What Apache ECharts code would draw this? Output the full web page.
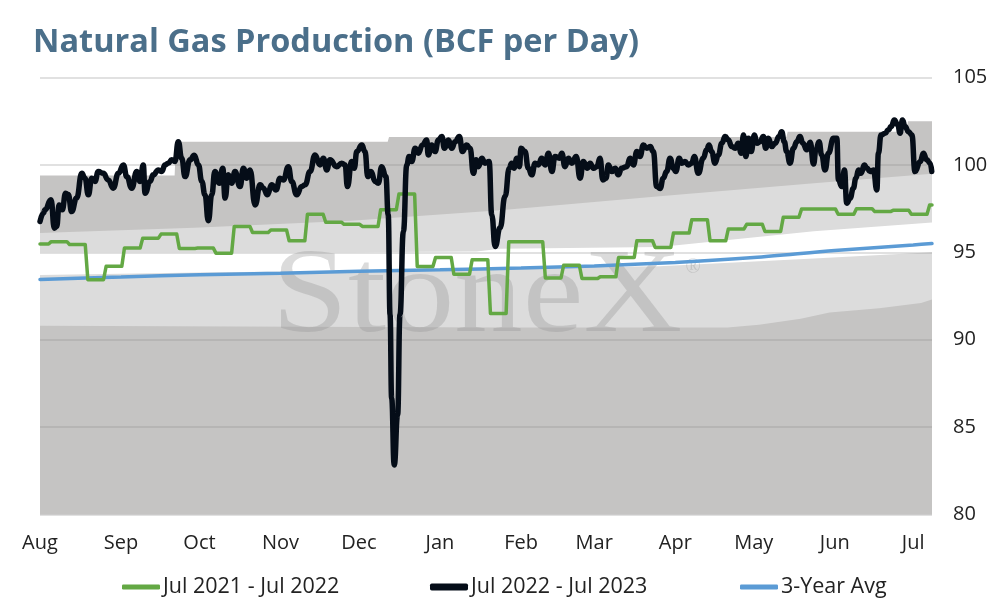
<!DOCTYPE html>
<html>
<head>
<meta charset="utf-8">
<script src="https://cdn.jsdelivr.net/npm/echarts@6/dist/echarts.min.js"></script>
<style>html,body{margin:0;padding:0;background:#fff}#c{width:994px;height:606px}</style>
</head>
<body>
<div id="c"></div>
<script>
// ---------- axis / tick data ----------
const monthNames = ['Aug','Sep','Oct','Nov','Dec','Jan','Feb','Mar','Apr','May','Jun','Jul'];
const monthStartDays = [0,31,61,92,122,153,184,212,243,273,304,334];
const lastDay = 341.2;

// ---------- 5-year range bands (day index from Aug 1) ----------
const bandMaxDays = [0,51.5,52,133,133.5,285.5,286,331.5,332,341.2];
const bandMaxVals = [99.4,99.4,101.33,101.33,101.6,101.6,101.9,101.9,102.5,102.5];
const bandUpperDays = [0,59,119,176,237,296,341.2];
const bandUpperVals = [96.1,96.4,96.8,97.4,98.2,98.95,99.5];
const bandWhiteTopDays = [0,119,167,176,237,296,341.2];
const bandWhiteTopVals = [95.0,95.0,95.05,95.2,95.3,96.2,96.7];
const bandWhiteBottomDays = [0,61,119,176,237,296,341.2];
const bandWhiteBottomVals = [93.7,93.85,93.95,94.1,94.2,94.65,95.0];
const bandMinDays = [0,176,263,275,291,302,321,337,341.2];
const bandMinVals = [90.8,90.7,90.7,90.85,91.2,91.55,91.8,92.1,92.3];

// ---------- 3-Year Avg ----------
const avgDays = [0,31,61,92,122,153,184,212,243,273,304,334,341.2];
const avgVals = [93.45,93.58,93.72,93.8,93.92,94.0,94.1,94.22,94.42,94.7,95.1,95.42,95.5];

// ---------- Jul 2021 - Jul 2022 (weekly) ----------
const greenPreVal = 95.47;
const greenFirstWeekDay = 3.8;
const greenWeekly = [
  95.61,95.45,93.43,94.2,95.24,95.81,96.04,95.22,95.24,94.95,
  96.48,96.13,96.28,95.66,97.18,96.72,96.6,96.48,97.43,98.33,
  94.19,94.7,93.75,94.57,91.5,95.6,95.6,93.53,94.26,93.5,
  93.6,94.7,95.66,95.28,96.1,96.86,95.66,96.34,96.6,96.19,
  97.0,97.47,97.47,97.18,97.49,97.33,97.4,97.18,97.71
];

// ---------- Jul 2022 - Jul 2023 (daily) ----------
const blackDays = [
  0,1.3,1.9,4.2,5.5,6.4,7.3,8.5,9.8,10.8,12.1,14.0,16.0,17.2,18.5,19.8,21.0,22.3,24.2,26.1,
  28.0,30.0,31.9,33.2,35.1,37.0,38.3,39.5,40.2,42.1,43.3,45.3,46.6,47.8,49.1,50.4,51.6,52.9,54.2,55.5,
  57.4,59.0,60.6,61.9,63.1,64.4,65.7,66.9,68.6,69.9,70.8,72.0,73.3,74.6,76.5,77.8,79.1,80.3,82.3,84.2,
  85.4,87.0,88.6,90.3,91.8,93.1,95.0,96.3,98.2,100.1,101.4,103.3,105.2,107.1,108.4,109.7,110.9,113.5,115.4,116.7,
  117.6,119.2,120.2,121.2,123.1,124.3,125.4,126.6,128.2,129.4,130.7,132.3,133.2,133.9,134.5,135.5,136.8,137.7,139.0,140.3,
  141.2,142.2,143.5,144.7,146.3,147.9,148.5,149.8,151.1,152.4,153.7,154.7,156.2,157.5,158.8,160.4,161.6,163.2,164.5,165.8,
  166.8,167.7,169.0,170.2,171.8,172.8,174.1,176.0,177.9,179.5,180.4,181.3,182.4,183.4,184.0,185.5,186.8,188.1,189.4,190.6,
  191.9,193.2,194.5,195.8,197.0,198.7,199.6,200.8,202.1,203.4,205.1,206.6,207.8,209.4,210.4,211.7,213.0,214.2,215.3,216.5,
  217.4,218.7,220.0,221.2,222.5,224.4,225.7,227.0,228.3,229.5,230.8,232.1,233.4,234.6,235.9,237.2,238.4,239.7,241.0,242.3,
  243.2,244.5,245.5,246.7,248.0,249.3,250.3,251.8,253.7,255.0,255.9,256.9,258.2,259.5,260.8,262.1,263.3,264.6,265.9,267.1,
  268.2,269.1,270.0,271.0,272.0,273.3,274.2,275.4,276.7,277.6,278.6,279.9,281.2,282.7,283.7,284.7,285.6,286.9,288.2,289.5,
  290.7,291.8,293.3,294.6,295.9,296.8,298.0,299.0,300.3,301.6,303.5,304.8,305.4,306.7,307.7,308.6,309.9,311.1,312.1,313.1,
  314.1,315.3,316.3,317.5,318.8,320.1,320.7,321.7,323.3,324.5,325.6,326.8,328.1,329.0,329.9,330.9,332.2,333.5,334.7,336.7,
  337.9,339.2,340.5,341.1
];
const blackVals = [
  96.76,97.24,97.43,98.0,96.38,96.48,97.71,97.43,98.38,98.3,97.33,98.1,99.52,99.24,98.29,99.24,99.05,99.62,99.52,99.14,
  98.67,99.52,100.0,99.33,98.67,99.62,99.05,100.0,98.38,99.05,99.43,99.71,99.62,100.0,100.1,100.29,100.19,101.33,100.38,99.33,
  100.29,100.55,100.0,99.05,98.29,96.8,98.29,99.62,98.95,99.81,98.1,99.43,98.95,99.62,98.76,99.81,99.24,99.71,97.71,98.86,
  98.67,98.29,98.86,98.57,99.24,99.14,99.9,99.05,98.29,98.76,98.86,99.62,100.57,100.0,100.38,99.71,100.29,99.9,100.1,100.0,
  98.76,100.19,99.81,100.76,101.14,100.76,99.33,99.62,99.05,98.95,99.9,99.33,97.14,91.43,86.67,82.83,85.71,91.43,96.19,100.0,
  100.48,100.19,100.95,100.67,101.14,101.43,100.57,101.14,100.76,101.43,101.62,100.95,101.43,100.95,101.33,101.62,100.76,101.14,100.95,99.52,
  100.29,99.9,100.38,100.1,100.19,97.14,95.33,96.4,98.2,99.81,100.1,99.81,100.38,99.9,100.95,100.76,99.81,99.43,100.1,100.0,
  100.38,100.0,100.67,99.62,100.48,100.38,100.67,99.9,100.38,100.1,100.48,99.24,100.19,99.81,100.1,99.81,99.9,100.38,99.14,99.24,
  100.0,99.62,99.81,99.43,99.81,99.9,100.38,100.0,100.76,100.48,101.14,100.95,101.05,100.76,98.76,98.65,99.24,99.62,100.38,99.81,
  99.62,100.38,100.1,100.19,100.0,100.1,100.48,99.52,100.38,100.86,101.14,100.76,100.1,100.57,101.24,101.62,101.43,101.05,100.95,101.24,
  100.67,101.71,100.48,101.52,100.76,101.71,101.24,101.33,101.62,100.95,101.52,101.05,101.24,101.62,101.9,101.33,100.76,100.1,100.95,101.33,
  101.62,101.24,100.86,101.3,100.05,100.86,101.33,100.57,99.71,100.67,101.52,101.52,99.14,98.76,99.71,97.81,98.1,98.67,99.24,99.71,
  99.52,100.0,99.81,99.62,99.71,98.57,100.67,101.71,101.81,102.0,102.19,102.57,102.29,101.81,102.57,102.19,101.9,101.71,99.62,100.19,
  100.67,100.29,100.1,99.62
];

// ---------- build series data ----------
const zip = (xs, ys) => xs.map((x, i) => [x, ys[i]]);
const greenData = [[0, greenPreVal], [greenFirstWeekDay - 0.5, greenPreVal]];
greenWeekly.forEach((v, k) => {
  const s = greenFirstWeekDay + 7 * k;
  greenData.push([s + 0.5, v], [Math.min(s + 6.5, lastDay), v]);
});

const DARK = '#c5c4c3', LIGHT = '#dcdcdc';
function band(name, days, vals, color) {
  return {
    name, type: 'line', data: zip(days, vals), showSymbol: false, silent: true, z: 1,
    lineStyle: { width: 0 }, areaStyle: { color, opacity: 1, origin: 'start' }
  };
}

const chart = echarts.init(document.getElementById('c'), null, { renderer: 'canvas' });
const FONT = '"Open Sans", sans-serif';
const legendBase = (name, left, color, h) => ({
  left, top: 576, orient: 'horizontal', icon: 'roundRect', itemWidth: 38, itemHeight: h,
  padding: 0, selectedMode: false,
  data: [{ name, itemStyle: { color } }],
  textStyle: { fontSize: 21.5, color: '#222', fontFamily: FONT, padding: [0, 0, 0, -2] }
});

chart.setOption({
  animation: false,
  backgroundColor: '#fff',
  title: {
    text: 'Natural Gas Production (BCF per Day)', left: 28, top: 21,
    textStyle: { fontSize: 32.5, fontWeight: 'bold', color: '#4b6f8a', fontFamily: FONT }
  },
  legend: [
    legendBase('Jul 2021 - Jul 2022', 122, '#63a844', 5),
    legendBase('Jul 2022 - Jul 2023', 430, '#050d18', 7),
    legendBase('3-Year Avg', 740, '#5b9bd5', 5)
  ],
  grid: { left: 40, right: 62, top: 77.5, bottom: 91.5, containLabel: false },
  xAxis: {
    type: 'value', min: 0, max: lastDay,
    axisLine: { show: false }, axisTick: { show: false }, splitLine: { show: false },
    axisLabel: {
      customValues: monthStartDays,
      formatter: v => monthNames[monthStartDays.indexOf(v)] || '',
      fontSize: 20, color: '#222', margin: 19, fontFamily: FONT
    }
  },
  yAxis: {
    type: 'value', position: 'right', min: 80, max: 105, interval: 5, z: 3,
    axisLine: { show: false }, axisTick: { show: false },
    axisLabel: { fontSize: 20, color: '#222', margin: 21, fontFamily: FONT },
    splitLine: { lineStyle: { color: 'rgba(140,140,140,0.35)', width: 1.5 } }
  },
  graphic: [
    {
      type: 'text', x: 477, y: 299, scaleX: 1.14, z: 4, silent: true,
      style: { text: 'StoneX', font: '120px "Liberation Serif", serif', fill: 'rgba(145,145,145,0.33)', align: 'center', verticalAlign: 'middle' }
    },
    {
      type: 'text', x: 693, y: 268, z: 4, silent: true,
      style: { text: '®', font: '20px "Liberation Serif", serif', fill: 'rgba(145,145,145,0.33)', align: 'center', verticalAlign: 'middle' }
    }
  ],
  series: [
    band('b1', bandMaxDays, bandMaxVals, DARK),
    band('b2', bandUpperDays, bandUpperVals, LIGHT),
    band('b3', bandWhiteTopDays, bandWhiteTopVals, '#ffffff'),
    band('b4', bandWhiteBottomDays, bandWhiteBottomVals, LIGHT),
    band('b5', bandMinDays, bandMinVals, DARK),
    {
      name: '3-Year Avg', type: 'line', data: zip(avgDays, avgVals), showSymbol: false, z: 6, smooth: 0.3,
      color: '#5b9bd5', itemStyle: { color: '#5b9bd5' },
      lineStyle: { width: 3.5, color: '#5b9bd5', cap: 'round' }
    },
    {
      name: 'Jul 2021 - Jul 2022', type: 'line', data: greenData, showSymbol: false, z: 6,
      color: '#63a844', itemStyle: { color: '#63a844' },
      lineStyle: { width: 3.5, color: '#63a844', join: 'round', cap: 'round' }
    },
    {
      name: 'Jul 2022 - Jul 2023', type: 'line', data: zip(blackDays, blackVals), showSymbol: false, z: 7,
      smooth: 0.5, smoothMonotone: 'x',
      color: '#050d18', itemStyle: { color: '#050d18' },
      lineStyle: { width: 5.5, color: '#050d18', join: 'round', cap: 'round' }
    }
  ]
});
</script>
</body>
</html>
